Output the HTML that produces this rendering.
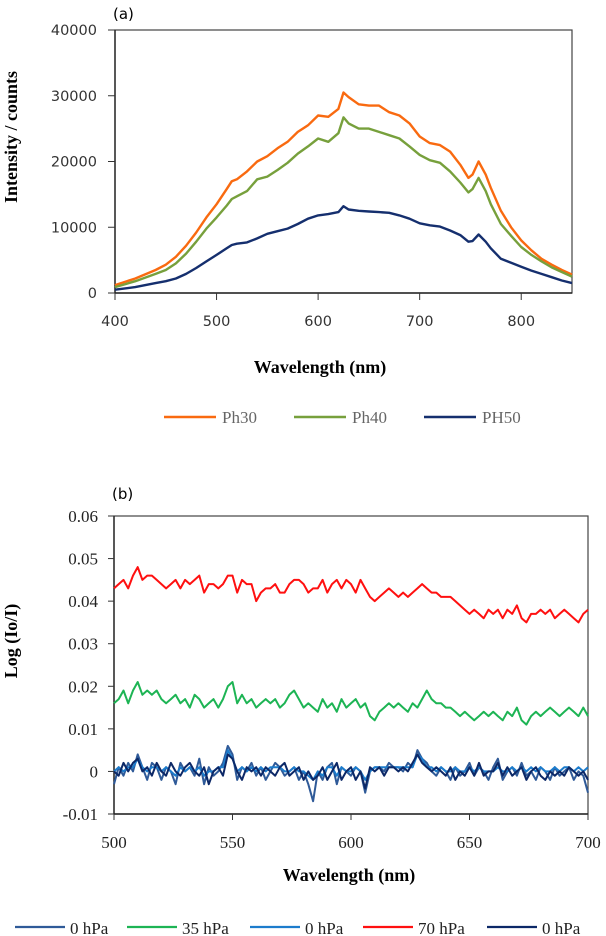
<!DOCTYPE html>
<html><head><meta charset="utf-8">
<style>
html,body{margin:0;padding:0;background:#fff;}
svg{display:block;}
</style></head>
<body>
<svg id="fig" width="606" height="936" viewBox="0 0 606 936" xmlns="http://www.w3.org/2000/svg"></svg>
<script>
// ---------- Chart (a) data ----------
const aWave = [400,420,440,450,460,470,480,490,500,510,515,520,530,540,550,560,570,580,590,600,610,620,625,630,640,650,660,670,680,690,700,710,720,730,740,748,752,758,765,770,780,790,800,810,820,830,840,850];
const aPh30 = [1200,2200,3500,4300,5500,7200,9200,11500,13500,15800,17000,17300,18500,20000,20800,22000,23000,24500,25500,27000,26800,28000,30500,29800,28700,28500,28500,27500,27000,25800,23800,22800,22500,21500,19500,17500,18000,20000,18000,16000,12500,10000,8000,6500,5200,4300,3500,2800];
const aPh40 = [900,1800,2900,3500,4500,6000,7800,9800,11500,13300,14300,14700,15500,17300,17700,18700,19800,21200,22300,23500,23000,24300,26700,25800,25000,25000,24500,24000,23500,22300,21000,20200,19800,18500,16800,15300,15800,17500,15500,13500,10500,8700,7000,5800,4800,3900,3200,2500];
const aPH50 = [500,900,1500,1800,2200,2900,3800,4800,5800,6800,7300,7500,7700,8300,9000,9400,9800,10500,11300,11800,12000,12300,13200,12700,12500,12400,12300,12200,11800,11300,10600,10300,10100,9500,8800,7800,7900,8900,7800,6800,5200,4600,4000,3400,2900,2400,1900,1500];
const aYTicks = [0,10000,20000,30000,40000];
const aXTicks = [400,500,600,700,800];

// ---------- Chart (b) data ----------
const bStart = 500, bStep = 2;
const b70 = [0.043,0.044,0.045,0.043,0.046,0.048,0.045,0.046,0.046,0.045,
0.044,0.043,0.044,0.045,0.043,0.045,0.044,0.045,0.046,0.042,
0.044,0.044,0.043,0.044,0.046,0.046,0.042,0.045,0.044,0.044,
0.040,0.042,0.043,0.043,0.044,0.042,0.042,0.044,0.045,0.045,
0.044,0.042,0.043,0.043,0.045,0.042,0.044,0.045,0.043,0.045,
0.044,0.042,0.045,0.043,0.041,0.040,0.041,0.042,0.043,0.042,
0.041,0.042,0.041,0.042,0.043,0.044,0.043,0.042,0.042,0.041,
0.041,0.041,0.040,0.039,0.038,0.037,0.038,0.037,0.036,0.038,
0.037,0.038,0.036,0.038,0.037,0.039,0.036,0.035,0.037,0.037,
0.038,0.037,0.038,0.036,0.037,0.038,0.037,0.036,0.035,0.037,0.038];
const b35 = [0.016,0.017,0.019,0.016,0.019,0.021,0.018,0.019,0.018,0.019,
0.017,0.016,0.017,0.018,0.016,0.017,0.015,0.018,0.017,0.015,
0.016,0.017,0.015,0.017,0.020,0.021,0.016,0.018,0.016,0.017,
0.015,0.016,0.017,0.016,0.017,0.015,0.016,0.018,0.019,0.017,
0.015,0.016,0.015,0.014,0.017,0.015,0.016,0.014,0.017,0.015,
0.016,0.017,0.015,0.016,0.013,0.012,0.014,0.015,0.016,0.015,
0.016,0.015,0.014,0.016,0.015,0.017,0.019,0.017,0.016,0.016,
0.015,0.015,0.014,0.013,0.014,0.013,0.012,0.013,0.014,0.013,
0.014,0.013,0.012,0.014,0.013,0.015,0.012,0.011,0.013,0.014,
0.013,0.014,0.015,0.014,0.013,0.014,0.015,0.014,0.013,0.015,0.013];
const b0a = [-0.003,0.001,-0.001,0.002,0.000,0.004,0.001,-0.002,0.002,0.001,
-0.002,0.001,0.000,-0.003,0.002,0.000,0.001,-0.001,0.003,-0.003,
0.001,-0.001,0.000,0.002,0.006,0.004,-0.002,0.001,0.000,0.002,
-0.001,0.001,-0.002,0.000,0.002,0.001,-0.001,0.000,0.001,-0.002,
0.000,-0.003,-0.007,0.000,-0.002,0.001,0.002,-0.003,0.001,0.000,
-0.001,0.001,0.000,-0.005,0.000,0.001,0.001,0.000,0.002,0.001,
0.001,0.000,0.002,0.001,0.005,0.003,0.002,0.000,-0.001,0.001,
0.000,-0.002,0.001,-0.001,0.000,0.002,-0.001,0.001,0.000,-0.002,
0.001,0.003,-0.002,0.000,0.001,-0.001,0.002,-0.001,0.000,-0.002,
0.001,0.000,-0.002,0.001,-0.001,0.000,0.001,-0.002,0.000,-0.001,-0.005];
const b0b = [0.000,0.001,0.000,0.001,0.001,0.003,0.001,0.000,0.001,0.001,
0.000,0.001,0.000,-0.001,0.001,0.000,0.001,0.000,0.001,-0.001,
0.000,0.000,0.001,0.001,0.005,0.003,0.000,0.001,0.000,0.001,
0.000,0.001,0.000,0.001,0.001,0.001,0.000,0.000,0.001,0.000,
0.000,-0.001,-0.002,0.000,-0.001,0.001,0.001,-0.001,0.001,0.000,
0.000,0.001,0.000,-0.002,0.000,0.001,0.001,0.001,0.001,0.001,
0.001,0.001,0.001,0.001,0.004,0.003,0.001,0.001,0.000,0.001,
0.000,0.000,0.001,0.000,0.000,0.001,0.000,0.001,0.000,0.000,
0.000,0.001,0.000,0.000,0.001,0.000,0.001,0.000,0.001,0.000,
0.001,0.000,0.000,0.001,0.000,0.001,0.001,0.000,0.001,0.000,0.001];
const b0c = [0.000,-0.001,0.002,0.000,0.002,0.003,0.000,0.001,-0.001,0.002,
0.000,-0.001,0.002,0.000,-0.001,0.001,0.002,0.000,-0.001,0.001,
-0.003,0.000,0.001,-0.001,0.004,0.003,0.000,-0.002,0.001,0.000,
0.001,-0.001,0.001,0.000,-0.001,0.001,0.002,-0.001,0.000,0.001,
-0.002,0.000,-0.002,-0.001,0.001,-0.002,0.000,0.002,-0.002,0.000,
0.001,-0.002,0.000,-0.004,0.001,0.000,0.001,-0.001,0.001,0.001,
0.000,0.001,0.000,0.002,0.004,0.002,0.001,0.000,0.001,0.000,
-0.001,0.001,-0.002,0.000,-0.001,0.001,-0.001,0.002,-0.001,0.000,
0.000,0.002,-0.001,0.001,-0.001,0.000,0.001,-0.002,0.000,0.001,
-0.001,-0.002,0.000,-0.001,0.000,-0.001,0.001,0.000,-0.001,0.000,-0.002];
const bYTicks = [-0.01,0,0.01,0.02,0.03,0.04,0.05,0.06];
const bYLabels = ["-0.01","0","0.01","0.02","0.03","0.04","0.05","0.06"];
const bXTicks = [500,550,600,650,700];

const NS = "http://www.w3.org/2000/svg";
const svg = document.getElementById('fig');
function mk(tag, attrs, parent, text){
  const e = document.createElementNS(NS, tag);
  for (const k in attrs) e.setAttribute(k, attrs[k]);
  if (text !== undefined) e.textContent = text;
  (parent || svg).appendChild(e);
  return e;
}

// ---------- Chart (a) ----------
const A = {l:115, r:572, t:30, b:293, x0:400, x1:850, y0:0, y1:40000};
const ax = v => A.l + (v - A.x0) / (A.x1 - A.x0) * (A.r - A.l);
const ay = v => A.b - (v - A.y0) / (A.y1 - A.y0) * (A.b - A.t);
const gA = mk('g', {});


let t = mk('text', {x:113, y:19, 'font-family':'"DejaVu Sans", sans-serif', 'font-size':15, fill:'#000'}, gA, '(a)');
 
let fr = mk('rect', {x:A.l, y:A.t, width:A.r-A.l, height:A.b-A.t, fill:'none', stroke:'#444', 'stroke-width':1.2}, gA);
 
mk('line', {x1:A.l, y1:A.t, x2:A.l, y2:A.b, stroke:'#222', 'stroke-width':1.4}, gA);
mk('line', {x1:A.l, y1:A.b, x2:A.r, y2:A.b, stroke:'#222', 'stroke-width':1.4}, gA);
aYTicks.forEach(v => {
  mk('line', {x1:A.l-7, y1:ay(v), x2:A.l, y2:ay(v), stroke:'#333'}, gA);
  const e = mk('text', {x:A.l-18, y:ay(v)+5, 'text-anchor':'end', 'font-family':'"DejaVu Sans", sans-serif', 'font-size':14.5, fill:'#333'}, gA, String(v));
  
  
});
aXTicks.forEach(v => {
  mk('line', {x1:ax(v), y1:A.b, x2:ax(v), y2:A.b+7, stroke:'#333'}, gA);
  const e = mk('text', {x:ax(v), y:326, 'text-anchor':'middle', 'font-family':'"DejaVu Sans", sans-serif', 'font-size':14.5, fill:'#333'}, gA, String(v));
  
  
});
t = mk('text', {x:320, y:373, 'text-anchor':'middle', 'font-family':'"Liberation Serif", serif', 'font-size':18, 'font-weight':'bold'}, gA, 'Wavelength (nm)');
 
t = mk('text', {x:0, y:0, transform:'translate(17,137) rotate(-90)', 'text-anchor':'middle', 'font-family':'"Liberation Serif", serif', 'font-size':18, 'font-weight':'bold'}, gA, 'Intensity / counts');
 
function seriesA(vals, color, name){
  const d = vals.map((v,i) => (i?'L':'M') + ax(aWave[i]).toFixed(1) + ',' + ay(v).toFixed(1)).join('');
  const p = mk('path', {d:d, fill:'none', stroke:color, 'stroke-width':2.4, 'stroke-linejoin':'round'}, gA);
  
  
}
seriesA(aPh30, '#f96a10', 'series-ph30');
seriesA(aPh40, '#77a03c', 'series-ph40');
seriesA(aPH50, '#152f6e', 'series-ph50');
const aLeg = [['Ph30','#f96a10',164],['Ph40','#77a03c',294],['PH50','#152f6e',424]];
aLeg.forEach(L => {
  const g = mk('g', {}, gA);
  
  
  mk('line', {x1:L[2], y1:417, x2:L[2]+52, y2:417, stroke:L[1], 'stroke-width':2.4}, g);
  mk('text', {x:L[2]+58, y:423, 'font-family':'"Liberation Serif", serif', 'font-size':17, fill:'#666'}, g, L[0]);
});

// ---------- Chart (b) ----------
const B = {l:114, r:588, t:516, b:814, x0:500, x1:700, y0:-0.01, y1:0.06};
const bx = v => B.l + (v - B.x0) / (B.x1 - B.x0) * (B.r - B.l);
const by = v => B.b - (v - B.y0) / (B.y1 - B.y0) * (B.b - B.t);
const gB = mk('g', {});


t = mk('text', {x:112, y:499, 'font-family':'"DejaVu Sans", sans-serif', 'font-size':15}, gB, '(b)');
 
fr = mk('rect', {x:B.l, y:B.t, width:B.r-B.l, height:B.b-B.t, fill:'none', stroke:'#444', 'stroke-width':1.2}, gB);
 
mk('line', {x1:B.l, y1:B.t, x2:B.l, y2:B.b, stroke:'#222', 'stroke-width':1.4}, gB);
mk('line', {x1:B.l, y1:B.b, x2:B.r, y2:B.b, stroke:'#222', 'stroke-width':1.4}, gB);
bYTicks.forEach((v,i) => {
  mk('line', {x1:B.l-6, y1:by(v), x2:B.l, y2:by(v), stroke:'#333'}, gB);
  const e = mk('text', {x:B.l-16, y:by(v)+6, 'text-anchor':'end', 'font-family':'"Liberation Serif", serif', 'font-size':17, fill:'#222'}, gB, bYLabels[i]);
  
  
});
bXTicks.forEach(v => {
  mk('line', {x1:bx(v), y1:B.b, x2:bx(v), y2:B.b+6, stroke:'#333'}, gB);
  const e = mk('text', {x:bx(v), y:848, 'text-anchor':'middle', 'font-family':'"Liberation Serif", serif', 'font-size':17, fill:'#222'}, gB, String(v));
  
  
});
t = mk('text', {x:349, y:881, 'text-anchor':'middle', 'font-family':'"Liberation Serif", serif', 'font-size':18, 'font-weight':'bold'}, gB, 'Wavelength (nm)');
 
t = mk('text', {x:0, y:0, transform:'translate(17,641) rotate(-90)', 'text-anchor':'middle', 'font-family':'"Liberation Serif", serif', 'font-size':18, 'font-weight':'bold'}, gB, 'Log (Io/I)');
 
function seriesB(vals, color, name){
  const d = vals.map((v,i) => (i?'L':'M') + bx(bStart + i*bStep).toFixed(1) + ',' + by(v).toFixed(1)).join('');
  const p = mk('path', {d:d, fill:'none', stroke:color, 'stroke-width':2, 'stroke-linejoin':'round'}, gB);
  
  
}
seriesB(b70, '#ff1010', 'series-70hpa');
seriesB(b35, '#1db454', 'series-35hpa');
seriesB(b0a, '#2f5a98', 'series-0hpa-1');
seriesB(b0b, '#1c7ccc', 'series-0hpa-2');
seriesB(b0c, '#0c2867', 'series-0hpa-3');
const bLeg = [['0 hPa','#2f5a98',15],['35 hPa','#1db454',127],['0 hPa','#1c7ccc',250],['70 hPa','#ff1010',363],['0 hPa','#0c2867',487]];
bLeg.forEach((L,i) => {
  const g = mk('g', {}, gB);
  
  
  mk('line', {x1:L[2], y1:927, x2:L[2]+50, y2:927, stroke:L[1], 'stroke-width':2.2}, g);
  mk('text', {x:L[2]+55, y:934, 'font-family':'"Liberation Serif", serif', 'font-size':17, fill:'#222'}, g, L[0]);
});
</script>
</body></html>
